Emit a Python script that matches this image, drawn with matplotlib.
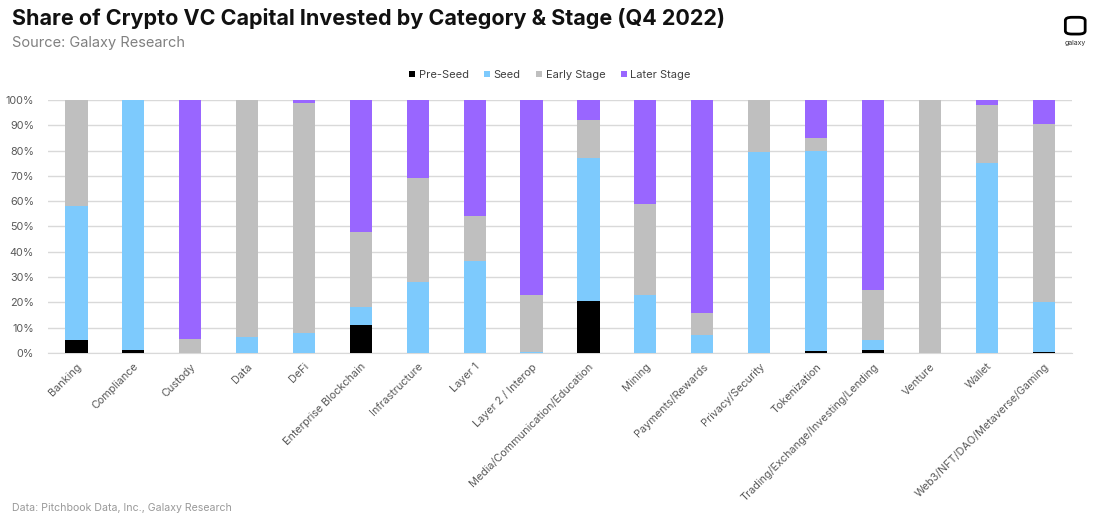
import matplotlib.pyplot as plt
from matplotlib.patches import FancyBboxPatch
from matplotlib.ticker import PercentFormatter
import numpy as np

plt.rcParams['font.family'] = ['Inter', 'DejaVu Sans']

categories = ["Banking", "Compliance", "Custody", "Data", "DeFi",
              "Enterprise Blockchain", "Infrastructure", "Layer 1",
              "Layer 2 / Interop", "Media/Communication/Education", "Mining",
              "Payments/Rewards", "Privacy/Security", "Tokenization",
              "Trading/Exchange/Investing/Lending", "Venture", "Wallet",
              "Web3/NFT/DAO/Metaverse/Gaming"]

pre_seed = [5, 1.2, 0, 0, 0, 11, 0, 0, 0, 20.5, 0, 0, 0, 0.7, 1, 0, 0, 0.3]
seed = [53, 98.8, 0, 6.5, 8, 7, 28, 36.5, 0.5, 56.5, 23, 7, 79.5, 79.3, 4, 0, 75, 19.7]
early = [42, 0, 5.5, 93.5, 91, 30, 41, 17.5, 22.5, 15, 36, 9, 20.5, 5, 20, 100, 23, 70.5]
later = [0, 0, 94.5, 0, 1, 52, 31, 46, 77, 8, 41, 84, 0, 15, 75, 0, 2, 9.5]

series = [("Pre-Seed", pre_seed, "#000000"),
          ("Seed", seed, "#7DCAFD"),
          ("Early Stage", early, "#BFBFBF"),
          ("Later Stage", later, "#9966FF")]

fig = plt.figure(figsize=(11, 5.24), dpi=100)
ax = fig.add_axes([0.0436, 0.3263, 0.931, 0.4829])

x = np.arange(len(categories))
bottom = np.zeros(len(categories))
for name, vals, col in series:
    vals = np.array(vals, dtype=float)
    ax.bar(x, vals, 0.39, bottom=bottom, color=col, label=name, zorder=3)
    bottom += vals

ax.set_xlim(-0.5, len(categories) - 0.5)
ax.set_ylim(0, 100)
ax.set_yticks(np.arange(0, 101, 10))
ax.yaxis.set_major_formatter(PercentFormatter(decimals=0))
ax.grid(axis='y', color='#D9D9D9', linewidth=1, zorder=0)
for s in ['top', 'right', 'left']:
    ax.spines[s].set_visible(False)
ax.spines['bottom'].set_color('#D9D9D9')
ax.tick_params(axis='both', length=0, labelsize=7.8, colors='#595959')
ax.tick_params(axis='y', pad=10)
ax.tick_params(axis='x', pad=6)
ax.set_xticks(x)
ax.set_xticklabels(categories, rotation=45, ha='right', rotation_mode='anchor')

fig.legend(loc='center', bbox_to_anchor=(0.5, 0.857), ncol=4, frameon=False,
           fontsize=8, handlelength=0.55, handleheight=0.55, handletextpad=0.3,
           columnspacing=1.4, labelcolor='#404040')

fig.text(0.011, 0.965, "Share of Crypto VC Capital Invested by Category & Stage (Q4 2022)",
         fontsize=15.5, fontweight='bold', color='#111111', va='center')
fig.text(0.011, 0.918, "Source: Galaxy Research", fontsize=10.5, color='#808080', va='center')
fig.text(0.011, 0.03, "Data: Pitchbook Data, Inc., Galaxy Research", fontsize=7.6,
         color='#999999', va='center')

# galaxy logo
logo = FancyBboxPatch((0.9705, 0.937), 0.014, 0.028, boxstyle="round,pad=0.002,rounding_size=0.006",
                      transform=fig.transFigure, facecolor='none', edgecolor='black', linewidth=2)
fig.patches.append(logo)
fig.text(0.9775, 0.918, "galaxy", fontsize=5, color='#333333', ha='center', va='center')

fig.savefig("out.png", dpi=100)
